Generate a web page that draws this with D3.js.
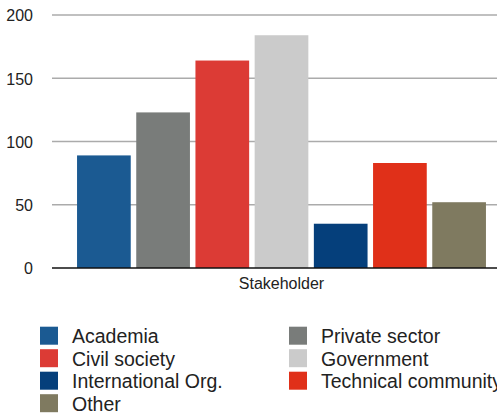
<!DOCTYPE html>
<html>
<head>
<meta charset="utf-8">
<script src="https://cdn.jsdelivr.net/npm/d3@7"></script>
<style>
  html, body { margin: 0; padding: 0; background: #fff; }
  svg { display: block; font-family: "Liberation Sans", Arial, Helvetica, sans-serif; }
</style>
</head>
<body>
<svg id="chart" width="497" height="413"></svg>
<script>
const categories = ["Academia", "Private sector", "Civil society", "Government", "International Org.", "Technical community", "Other"];
const values = [89, 123, 164, 184, 35, 83, 52];
const colors = ["#1b5a92", "#797c7a", "#dc3b35", "#cbcbcb", "#053f7b", "#e03019", "#7f7a60"];
const yTicks = [0, 50, 100, 150, 200];
const xLabel = "Stakeholder";

const svg = d3.select("#chart");
const plot = { left: 52, right: 511, top: 15, bottom: 268 };

const x = d3.scaleBand().domain(categories).range([plot.left, plot.right]).paddingInner(0.093).paddingOuter(0.423);
const y = d3.scaleLinear().domain([0, 200]).range([plot.bottom, plot.top]);

// gridlines
svg.append("g").selectAll("line").data(yTicks.filter(t => t > 0)).join("line")
  .attr("x1", plot.left).attr("x2", 497)
  .attr("y1", d => y(d)).attr("y2", d => y(d))
  .attr("stroke", "#ababab").attr("stroke-width", 1.5);

// y-axis tick labels
const yAxis = d3.axisLeft(y).tickValues(yTicks).tickSize(0).tickPadding(0);
const ya = svg.append("g").attr("transform", `translate(${plot.left - 19},0)`).call(yAxis);
ya.select(".domain").remove();
ya.selectAll("text").attr("font-size", 16).attr("fill", "#222")
  .attr("font-family", "'Liberation Sans', Arial, sans-serif").attr("dy", "0.36em");

// bars
svg.append("g").selectAll("rect").data(categories).join("rect")
  .attr("x", d => x(d))
  .attr("width", x.bandwidth())
  .attr("y", (d, i) => y(values[i]))
  .attr("height", (d, i) => y(0) - y(values[i]))
  .attr("fill", (d, i) => colors[i]);

// baseline
svg.append("line").attr("x1", plot.left).attr("x2", 497)
  .attr("y1", y(0)).attr("y2", y(0))
  .attr("stroke", "#111").attr("stroke-width", 1.5);

// x label
svg.append("text").attr("x", (plot.left + plot.right) / 2).attr("y", 289)
  .attr("text-anchor", "middle").attr("font-size", 16).attr("fill", "#222").text(xLabel);

// legend
const legendCols = [40, 289];
const legendRowTop = 326.7, legendRowStep = 22.5;
const order = [0, 2, 4, 6, 1, 3, 5];
const lg = svg.append("g").selectAll("g").data(order).join("g")
  .attr("transform", (idx, k) => {
    const col = k < 4 ? 0 : 1;
    const row = k < 4 ? k : k - 4;
    return `translate(${legendCols[col]},${legendRowTop + row * legendRowStep})`;
  });
lg.append("rect").attr("width", 18).attr("height", 18).attr("fill", idx => colors[idx]);
lg.append("text").attr("x", 32).attr("y", 16.4).attr("font-size", 19.5).attr("fill", "#222").text(idx => categories[idx]);
</script>
</body>
</html>
